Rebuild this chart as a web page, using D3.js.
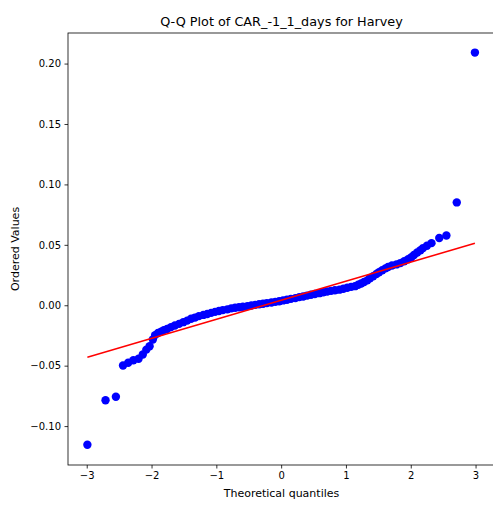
<!DOCTYPE html>
<html>
<head>
<meta charset="utf-8">
<script src="https://cdn.jsdelivr.net/npm/d3@7"></script>
<style>
  body { margin: 0; background: #fff; }
  text { font-family: "DejaVu Sans", sans-serif; fill: #000; }
</style>
</head>
<body>
<div id="chart"></div>
<script>
// theoretical quantiles and ordered values
var quantiles = [-2.99, -2.71, -2.55, -2.44, -2.36, -2.28, -2.20, -2.135, -2.08, -2.03,
  -1.98, -1.945, -1.90, -1.85, -1.81, -1.76, -1.70, -1.64, -1.575, -1.51,
  -1.45, -1.39, -1.33, -1.27, -1.20, -1.14, -1.08, -1.02, -0.96, -0.90,
  -0.83, -0.77, -0.71, -0.65, -0.59, -0.52, -0.46, -0.40, -0.34, -0.28,
  -0.22, -0.15, -0.09, -0.03, 0.03, 0.09, 0.15, 0.22, 0.28, 0.34,
  0.40, 0.46, 0.52, 0.59, 0.65, 0.71, 0.77, 0.83, 0.90, 0.96,
  1.02, 1.08, 1.14, 1.19, 1.235, 1.28, 1.33, 1.37, 1.42, 1.47,
  1.51, 1.56, 1.61, 1.65, 1.71, 1.78, 1.84, 1.90, 1.96, 2.01,
  2.05, 2.10, 2.15, 2.19, 2.25, 2.32, 2.44, 2.55, 2.71, 2.99];

var ordered = [-0.1155, -0.0786, -0.0757, -0.0499, -0.0476, -0.0455, -0.0443, -0.0408, -0.0367, -0.0339,
  -0.0284, -0.0247, -0.0230, -0.0218, -0.0206, -0.0197, -0.0181, -0.0168, -0.0154, -0.0140,
  -0.0127, -0.0112, -0.0102, -0.0090, -0.0080, -0.0072, -0.0063, -0.0055, -0.0048, -0.0040,
  -0.0034, -0.0026, -0.0021, -0.0017, -0.0012, -0.0007, -0.0002, 0.0003, 0.0008, 0.0013,
  0.0018, 0.0023, 0.0028, 0.0033, 0.0040, 0.0046, 0.0053, 0.0059, 0.0067, 0.0073,
  0.0080, 0.0087, 0.0093, 0.0100, 0.0107, 0.0114, 0.0119, 0.0124, 0.0129, 0.0137,
  0.0145, 0.0152, 0.0158, 0.0170, 0.0180, 0.0192, 0.0206, 0.0223, 0.0240, 0.0258,
  0.0273, 0.0290, 0.0305, 0.0316, 0.0329, 0.0338, 0.0349, 0.0364, 0.0381, 0.0397,
  0.0416, 0.0436, 0.0455, 0.0473, 0.0492, 0.0514, 0.0556, 0.0577, 0.0851, 0.2091];

// least squares fit line
var fitSlope = 0.01577;
var fitIntercept = 0.0041;

var xTicks = [-3, -2, -1, 0, 1, 2, 3];
var yTicks = [-0.10, -0.05, 0.00, 0.05, 0.10, 0.15, 0.20];

var width = 493, height = 505;
var margin = {top: 33, right: -2, bottom: 40, left: 68};

var svg = d3.select("#chart").append("svg")
    .attr("width", width)
    .attr("height", height);

var x = d3.scaleLinear().domain([-3.289, 3.3]).range([margin.left, width - margin.right]);
var y = d3.scaleLinear().domain([-0.1322, 0.2253]).range([height - margin.bottom, margin.top]);

var fmt = function(d) { return d3.format(".2f")(d).replace("-", "\u2212"); };

var pts = quantiles.map(function(q, i) { return {q: q, v: ordered[i]}; });
var qExt = d3.extent(quantiles);

// ordered values
svg.append("g").selectAll("circle")
    .data(pts)
    .enter().append("circle")
    .attr("cx", function(d) { return x(d.q); })
    .attr("cy", function(d) { return y(d.v); })
    .attr("r", 4.2)
    .style("fill", "#0000ff");

// fit line, on top of the points
svg.append("line")
    .attr("x1", x(qExt[0])).attr("y1", y(fitIntercept + fitSlope * qExt[0]))
    .attr("x2", x(qExt[1])).attr("y2", y(fitIntercept + fitSlope * qExt[1]))
    .attr("stroke", "#ff0000")
    .attr("stroke-width", 1.5);

// axes
var xAxis = svg.append("g")
    .attr("transform", "translate(0," + (height - margin.bottom) + ")")
    .call(d3.axisBottom(x).tickValues(xTicks).tickFormat(function(d) { return String(d).replace("-", "\u2212"); }).tickSizeOuter(0).tickSize(3.5).tickPadding(3.5));

var yAxis = svg.append("g")
    .attr("transform", "translate(" + margin.left + ",0)")
    .call(d3.axisLeft(y).tickValues(yTicks).tickFormat(fmt).tickSizeOuter(0).tickSize(3.5).tickPadding(3.5));

[xAxis, yAxis].forEach(function(a) {
    a.selectAll("text").style("font-size", "10px").style("fill", "#000");
    a.selectAll("line").attr("stroke", "#000").attr("stroke-width", 0.8);
    a.select(".domain").remove();
});

// frame
svg.append("rect")
    .attr("x", margin.left).attr("y", margin.top)
    .attr("width", x.range()[1] - margin.left)
    .attr("height", height - margin.bottom - margin.top)
    .attr("fill", "none")
    .attr("stroke", "#000")
    .attr("stroke-width", 0.8);

svg.append("text")
    .attr("x", (margin.left + x.range()[1]) / 2)
    .attr("y", 26)
    .attr("text-anchor", "middle")
    .style("font-size", "12.8px")
    .text("Q-Q Plot of CAR_-1_1_days for Harvey");

svg.append("text")
    .attr("x", (margin.left + x.range()[1]) / 2)
    .attr("y", 497)
    .attr("text-anchor", "middle")
    .style("font-size", "11px")
    .text("Theoretical quantiles");

svg.append("text")
    .attr("transform", "translate(19," + ((margin.top + height - margin.bottom) / 2) + ") rotate(-90)")
    .attr("text-anchor", "middle")
    .style("font-size", "11px")
    .text("Ordered Values");
</script>
</body>
</html>
